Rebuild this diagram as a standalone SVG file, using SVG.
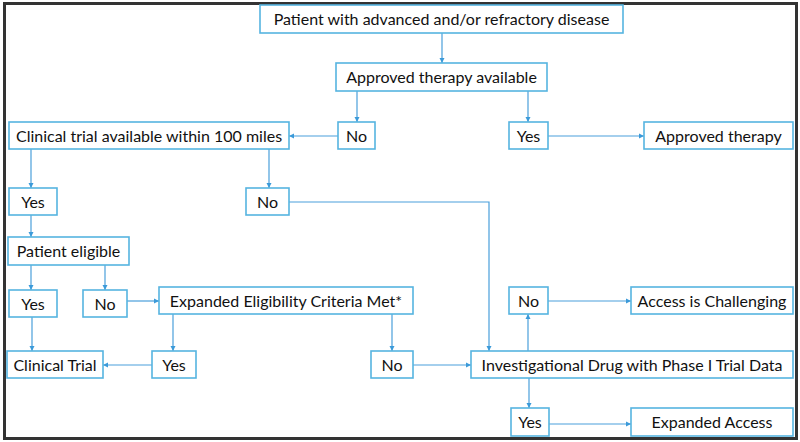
<svg xmlns="http://www.w3.org/2000/svg" width="800" height="442" viewBox="0 0 800 442">
<defs>
<marker id="ah" markerWidth="6" markerHeight="6" refX="5" refY="3" orient="auto" markerUnits="userSpaceOnUse">
<path d="M0,0.5 L5,3 L0,5.5 Z" fill="#3b9ad9"/>
</marker>
</defs>
<style>
.b{fill:#fff;stroke:#56b4e0;stroke-width:1.6}
.t{font-family:Lato,"Open Sans","Liberation Sans",sans-serif;font-size:16px;fill:#111;text-anchor:middle}
.c{fill:none;stroke:#4a9fdb;stroke-width:1.2;marker-end:url(#ah)}
</style>
<rect x="0" y="0" width="800" height="442" fill="#fff"/>
<rect x="4.5" y="3.5" width="792" height="435" fill="none" stroke="#333" stroke-width="3"/>
<g id="connectors">
<path class="c" d="M442,33 V63"/>
<path class="c" d="M357,91 V122"/>
<path class="c" d="M528,91 V122"/>
<path class="c" d="M338,136 H289"/>
<path class="c" d="M548,136 H644"/>
<path class="c" d="M31,149 V188"/>
<path class="c" d="M269,149 V188"/>
<path class="c" d="M289,202 H489 V351"/>
<path class="c" d="M31,215 V237"/>
<path class="c" d="M31,265 V290"/>
<path class="c" d="M105,265 V290"/>
<path class="c" d="M127,301 H159"/>
<path class="c" d="M32,317 V351"/>
<path class="c" d="M173,314 V351"/>
<path class="c" d="M392,314 V351"/>
<path class="c" d="M152,365 H103"/>
<path class="c" d="M413,365 H471"/>
<path class="c" d="M528,351 V314"/>
<path class="c" d="M548,301 H631"/>
<path class="c" d="M529,378 V408"/>
<path class="c" d="M549,424 H631"/>
</g>
<g id="n1"><rect class="b" x="260" y="5" width="363" height="28"/><text class="t" x="441.5" y="25">Patient with advanced and/or refractory disease</text></g>
<g id="n2"><rect class="b" x="336" y="63" width="211" height="28"/><text class="t" x="441.5" y="83">Approved therapy available</text></g>
<g id="n3"><rect class="b" x="338" y="122" width="37" height="27"/><text class="t" x="356.5" y="141.5">No</text></g>
<g id="n4"><rect class="b" x="9" y="122" width="280" height="27"/><text class="t" x="149" y="141.5">Clinical trial available within 100 miles</text></g>
<g id="n5"><rect class="b" x="509" y="122" width="39" height="27"/><text class="t" x="528.5" y="141.5">Yes</text></g>
<g id="n6"><rect class="b" x="644" y="122" width="149" height="27"/><text class="t" x="718.5" y="141.5">Approved therapy</text></g>
<g id="n7"><rect class="b" x="9" y="188" width="48" height="27"/><text class="t" x="33" y="207.5">Yes</text></g>
<g id="n8"><rect class="b" x="246" y="188" width="43" height="27"/><text class="t" x="267.5" y="207.5">No</text></g>
<g id="n9"><rect class="b" x="8" y="237" width="121" height="28"/><text class="t" x="68.5" y="257">Patient eligible</text></g>
<g id="n10"><rect class="b" x="9" y="290" width="48" height="27"/><text class="t" x="33" y="309.5">Yes</text></g>
<g id="n11"><rect class="b" x="83" y="290" width="44" height="27"/><text class="t" x="105" y="309.5">No</text></g>
<g id="n12"><rect class="b" x="159" y="287" width="254" height="27"/><text class="t" x="286" y="306.5">Expanded Eligibility Criteria Met*</text></g>
<g id="n13"><rect class="b" x="7" y="351" width="96" height="27"/><text class="t" x="55" y="370.5">Clinical Trial</text></g>
<g id="n14"><rect class="b" x="152" y="351" width="44" height="27"/><text class="t" x="174" y="370.5">Yes</text></g>
<g id="n15"><rect class="b" x="371" y="351" width="42" height="27"/><text class="t" x="392" y="370.5">No</text></g>
<g id="n16"><rect class="b" x="509" y="287" width="39" height="27"/><text class="t" x="528.5" y="306.5">No</text></g>
<g id="n17"><rect class="b" x="631" y="287" width="162" height="27"/><text class="t" x="712" y="306.5">Access is Challenging</text></g>
<g id="n18"><rect class="b" x="471" y="351" width="322" height="27"/><text class="t" x="632" y="370.5">Investigational Drug with Phase I Trial Data</text></g>
<g id="n19"><rect class="b" x="511" y="408" width="38" height="28"/><text class="t" x="530" y="428">Yes</text></g>
<g id="n20"><rect class="b" x="631" y="408" width="162" height="28"/><text class="t" x="712" y="428">Expanded Access</text></g>
</svg>
